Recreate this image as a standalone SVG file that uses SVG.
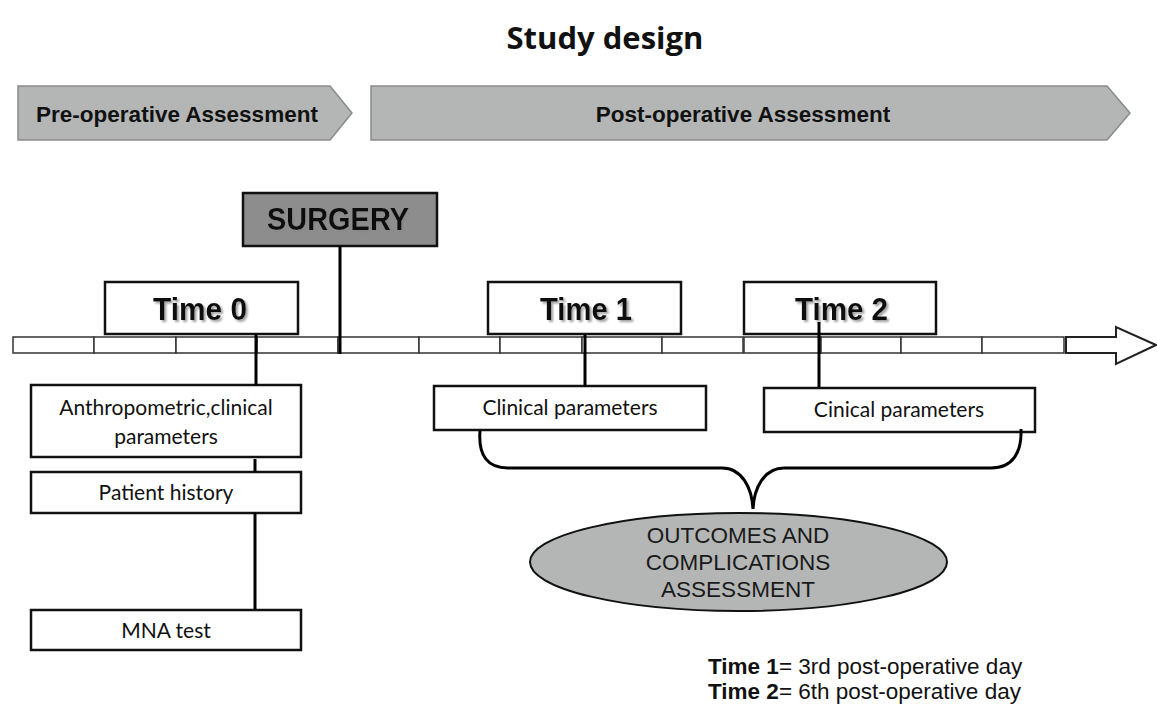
<svg xmlns="http://www.w3.org/2000/svg" width="1157" height="707" viewBox="0 0 1157 707">
  <defs>
    <style>
      .banner { fill: #b4b6b6; stroke: #8a8a8a; stroke-width: 1.5; }
      .banner-text { font-family: "Liberation Sans", Arial, sans-serif; font-weight: bold; font-size: 22.5px; fill: #111; text-anchor: middle; }
      .time-box { fill: #fff; stroke: #111; stroke-width: 2.5; }
      .time-text { font-family: "Liberation Sans", Arial, sans-serif; font-weight: bold; font-size: 32px; fill: #111; text-anchor: middle; filter: url(#shadow); }
      .box { fill: #fff; stroke: #111; stroke-width: 2.5; }
      .box-text { font-family: Lato, "Open Sans", sans-serif; font-size: 21px; fill: #111; text-anchor: middle; }
      .seg { fill: #fff; stroke: #333; stroke-width: 1.5; }
      .link { stroke: #000; stroke-width: 3; fill: none; }
      .oval-text { font-family: "Liberation Sans", Arial, sans-serif; font-size: 22.5px; fill: #1a1a1a; text-anchor: middle; }
      .note { font-family: "Liberation Sans", Arial, sans-serif; font-size: 22.5px; fill: #111; }
    </style>
    <filter id="shadow" x="-10%" y="-20%" width="130%" height="150%">
      <feGaussianBlur in="SourceAlpha" stdDeviation="1.2"/>
      <feOffset dx="1.5" dy="1.5" result="blur"/>
      <feFlood flood-color="#888" flood-opacity="0.8"/>
      <feComposite in2="blur" operator="in"/>
      <feMerge><feMergeNode/><feMergeNode in="SourceGraphic"/></feMerge>
    </filter>
  </defs>

  <rect width="1157" height="707" fill="#fff"/>

  <!-- Title -->
  <text x="605" y="49" font-family="'Open Sans', sans-serif" font-weight="bold" font-size="31" fill="#111" text-anchor="middle">Study design</text>

  <!-- Phase banners -->
  <g id="pre-op">
    <polygon class="banner" points="18,86 330,86 352,113 330,140 18,140"/>
    <text class="banner-text" x="177" y="122">Pre-operative Assessment</text>
  </g>
  <g id="post-op">
    <polygon class="banner" points="371,86 1107,86 1130,113 1107,140 371,140"/>
    <text class="banner-text" x="743" y="122">Post-operative Assessment</text>
  </g>

  <!-- Timeline bar with hollow arrow -->
  <g id="timeline">
    <rect class="seg" x="13" y="337" width="81" height="16"/>
    <rect class="seg" x="94" y="337" width="82" height="16"/>
    <rect class="seg" x="176" y="337" width="81" height="16"/>
    <rect class="seg" x="257" y="337" width="81" height="16"/>
    <rect class="seg" x="338" y="337" width="81" height="16"/>
    <rect class="seg" x="419" y="337" width="81" height="16"/>
    <rect class="seg" x="500" y="337" width="82" height="16"/>
    <rect class="seg" x="582" y="337" width="80" height="16"/>
    <rect class="seg" x="662" y="337" width="81" height="16"/>
    <rect class="seg" x="744" y="337" width="77" height="16"/>
    <rect class="seg" x="821" y="337" width="80" height="16"/>
    <rect class="seg" x="901" y="337" width="81" height="16"/>
    <rect class="seg" x="982" y="337" width="82" height="16"/>
    <polygon fill="#fff" stroke="#222" stroke-width="2" points="1066,337 1116,337 1116,327 1156,345 1116,364 1116,353 1066,353"/>
  </g>

  <!-- Surgery marker -->
  <g id="surgery">
    <rect x="243" y="193" width="194" height="53" fill="#8d8d8d" stroke="#111" stroke-width="2.5"/>
    <text class="time-text" x="338" y="230" font-size="32" textLength="142" lengthAdjust="spacingAndGlyphs">SURGERY</text>
  </g>

  <!-- Time points -->
  <g id="time0">
    <rect class="time-box" x="105" y="282" width="193" height="52"/>
    <text class="time-text" x="200" y="320" textLength="94" lengthAdjust="spacingAndGlyphs">Time 0</text>
  </g>
  <g id="time1">
    <rect class="time-box" x="488" y="282" width="193" height="52"/>
    <text class="time-text" x="586" y="320" textLength="92" lengthAdjust="spacingAndGlyphs">Time 1</text>
  </g>
  <g id="time2">
    <rect class="time-box" x="744" y="282" width="192" height="52"/>
    <text class="time-text" x="841.5" y="320" textLength="93" lengthAdjust="spacingAndGlyphs">Time 2</text>
  </g>

  <!-- Pre-operative measures -->
  <g id="anthropometric">
    <rect class="box" x="31" y="385" width="270" height="72"/>
    <text class="box-text" x="166" y="415">Anthropometric,clinical</text>
    <text class="box-text" x="166" y="444">parameters</text>
  </g>
  <g id="history">
    <rect class="box" x="31" y="472" width="270" height="41"/>
    <text class="box-text" x="166" y="500">Patient history</text>
  </g>
  <g id="mna">
    <rect class="box" x="31" y="610" width="270" height="40"/>
    <text class="box-text" x="166" y="638">MNA test</text>
  </g>

  <!-- Post-operative measures -->
  <g id="clinical1">
    <rect class="box" x="434" y="386" width="272" height="44"/>
    <text class="box-text" x="570" y="415">Clinical parameters</text>
  </g>
  <g id="clinical2">
    <rect class="box" x="764" y="388" width="271" height="44"/>
    <text class="box-text" x="899" y="417">Cinical parameters</text>
  </g>

  <!-- Outcomes -->
  <g id="outcomes">
    <ellipse cx="738.5" cy="562" rx="208.5" ry="49" fill="#b4b6b6" stroke="#111" stroke-width="2"/>
    <text class="oval-text" x="738" y="543">OUTCOMES AND</text>
    <text class="oval-text" x="738" y="570">COMPLICATIONS</text>
    <text class="oval-text" x="738" y="597">ASSESSMENT</text>
  </g>

  <!-- Connectors (drawn last so the Time 2 stem shows over its label box) -->
  <g id="connectors">
    <line class="link" x1="340" y1="246" x2="340" y2="354" stroke-width="4"/>
    <line class="link" x1="256" y1="334" x2="256" y2="385"/>
    <line class="link" x1="255" y1="459" x2="255" y2="472"/>
    <line class="link" x1="255" y1="513" x2="255" y2="610"/>
    <line class="link" x1="585" y1="334" x2="585" y2="387"/>
    <line class="link" x1="819" y1="322" x2="819" y2="387"/>
    <path class="link" stroke-width="2.5" d="M480,431 C478,456 488,468 508,468 L722,468 C742,468 752,488 753,509 C754,488 764,468 784,468 L991,468 C1013,468 1022,452 1021,429"/>
  </g>

  <!-- Legend -->
  <g id="legend">
    <text class="note" x="708" y="674"><tspan font-weight="bold">Time 1</tspan>= 3rd post-operative day</text>
    <text class="note" x="708" y="699"><tspan font-weight="bold">Time 2</tspan>= 6th post-operative day</text>
  </g>
</svg>
